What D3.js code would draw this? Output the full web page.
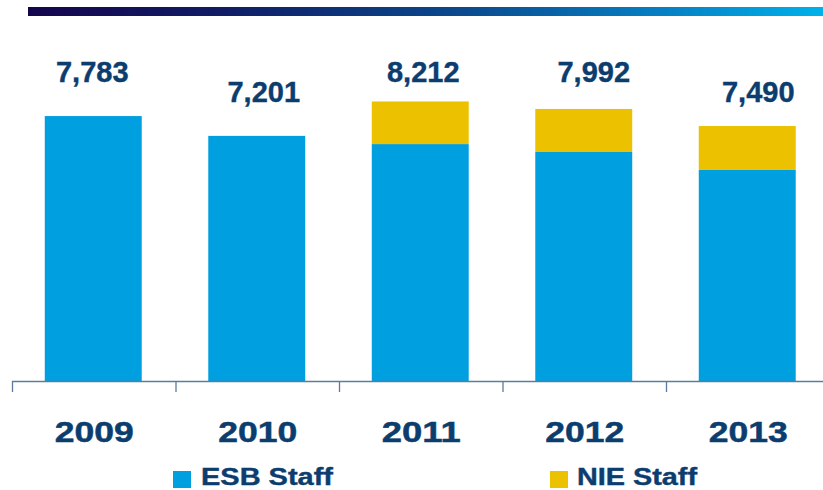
<!DOCTYPE html>
<html>
<head>
<meta charset="utf-8">
<script src="https://cdn.jsdelivr.net/npm/d3@7/dist/d3.min.js"></script>
<style>
  html, body { margin: 0; padding: 0; background: #fff; }
  svg { display: block; }
  text { font-family: "Liberation Sans", Arial, Helvetica, sans-serif; font-weight: bold; }
</style>
</head>
<body>
<svg id="chart" width="823" height="490"></svg>
<script>
// Headcount by year, split by company
const years = ["2009", "2010", "2011", "2012", "2013"];
const esbStaff = [7783, 7201, 6960, 6727, 6200];
const nieStaff = [0, 0, 1252, 1265, 1290];
const totalLabels = ["7,783", "7,201", "8,212", "7,992", "7,490"];
const seriesNames = ["ESB Staff", "NIE Staff"];

const W = 823, H = 490;
const svg = d3.select("#chart");

const navy = "#0b3d6f";
const colESB = "#009fdf";
const colNIE = "#ebc100";

// Header band with horizontal gradient
const defs = svg.append("defs");
const grad = defs.append("linearGradient").attr("id", "hdr").attr("x1", 0).attr("x2", 1).attr("y1", 0).attr("y2", 0);
[[0, "#15054d"], [0.25, "#101d66"], [0.55, "#0b4a8e"], [0.8, "#0680c4"], [1, "#00b1ea"]]
  .forEach(([o, c]) => grad.append("stop").attr("offset", o).attr("stop-color", c));
svg.append("rect").attr("x", 28).attr("y", 7).attr("width", W - 28).attr("height", 9).attr("fill", "url(#hdr)");

// Scales
const baseY = 381;
const x = d3.scaleBand().domain(years).range([11.5, 829]).paddingInner(0.407).paddingOuter(0.2035);
const y = d3.scaleLinear().domain([0, 10000]).range([baseY, baseY - 340.4]);

// Stacked bars
const rows = years.map((yr, i) => ({ year: yr, esb: esbStaff[i], nie: nieStaff[i] }));
const stack = d3.stack().keys(["esb", "nie"])(rows);
const colors = { esb: colESB, nie: colNIE };

svg.append("g").selectAll("g").data(stack).join("g")
  .attr("fill", d => colors[d.key])
  .selectAll("rect").data(d => d.filter(p => p[1] > p[0])).join("rect")
  .attr("x", d => x(d.data.year))
  .attr("width", x.bandwidth())
  .attr("y", d => y(d[1]))
  .attr("height", d => y(d[0]) - y(d[1]));

// Category axis: baseline with ticks at band boundaries
const step = x.step();
const axisG = svg.append("g").attr("stroke", "#5d7c9c").attr("stroke-width", 1.3);
axisG.append("line").attr("x1", 12).attr("x2", W).attr("y1", baseY + 0.5).attr("y2", baseY + 0.5);
years.forEach(yr => {
  const bx = x(yr) + x.bandwidth() / 2 - step / 2 + 1;
  axisG.append("line").attr("x1", bx).attr("x2", bx).attr("y1", baseY).attr("y2", baseY + 11);
});

// Year labels
svg.append("g").selectAll("text").data(years).join("text")
  .attr("x", d => x(d) + x.bandwidth() / 2 + 1)
  .attr("y", 442)
  .attr("text-anchor", "middle")
  .attr("fill", navy)
  .attr("stroke", navy).attr("stroke-width", 0.5)
  .attr("font-size", 30)
  .attr("textLength", 79)
  .attr("lengthAdjust", "spacingAndGlyphs")
  .text(d => d);

// Total labels above the bars
const labelDx = [-1, 7, 3, 10, 11];
const labelY = [82, 102, 82, 82, 102];
svg.append("g").selectAll("text").data(years).join("text")
  .attr("x", (d, i) => x(d) + x.bandwidth() / 2 + labelDx[i])
  .attr("y", (d, i) => labelY[i])
  .attr("text-anchor", "middle")
  .attr("fill", navy)
  .attr("stroke", navy).attr("stroke-width", 0.4)
  .attr("font-size", 29)
  .text((d, i) => totalLabels[i]);

// Legend
const legend = [
  { name: seriesNames[0], color: colESB, sx: 173, tx: 201, len: 132 },
  { name: seriesNames[1], color: colNIE, sx: 550, tx: 577, len: 120 }
];
const lg = svg.append("g");
legend.forEach(l => {
  lg.append("rect").attr("x", l.sx).attr("y", 471).attr("width", 18).attr("height", 17).attr("fill", l.color);
  lg.append("text").attr("x", l.tx).attr("y", 485).attr("fill", navy)
    .attr("stroke", navy).attr("stroke-width", 0.4)
    .attr("font-size", 23)
    .attr("textLength", l.len).attr("lengthAdjust", "spacingAndGlyphs").text(l.name);
});
</script>
</body>
</html>
